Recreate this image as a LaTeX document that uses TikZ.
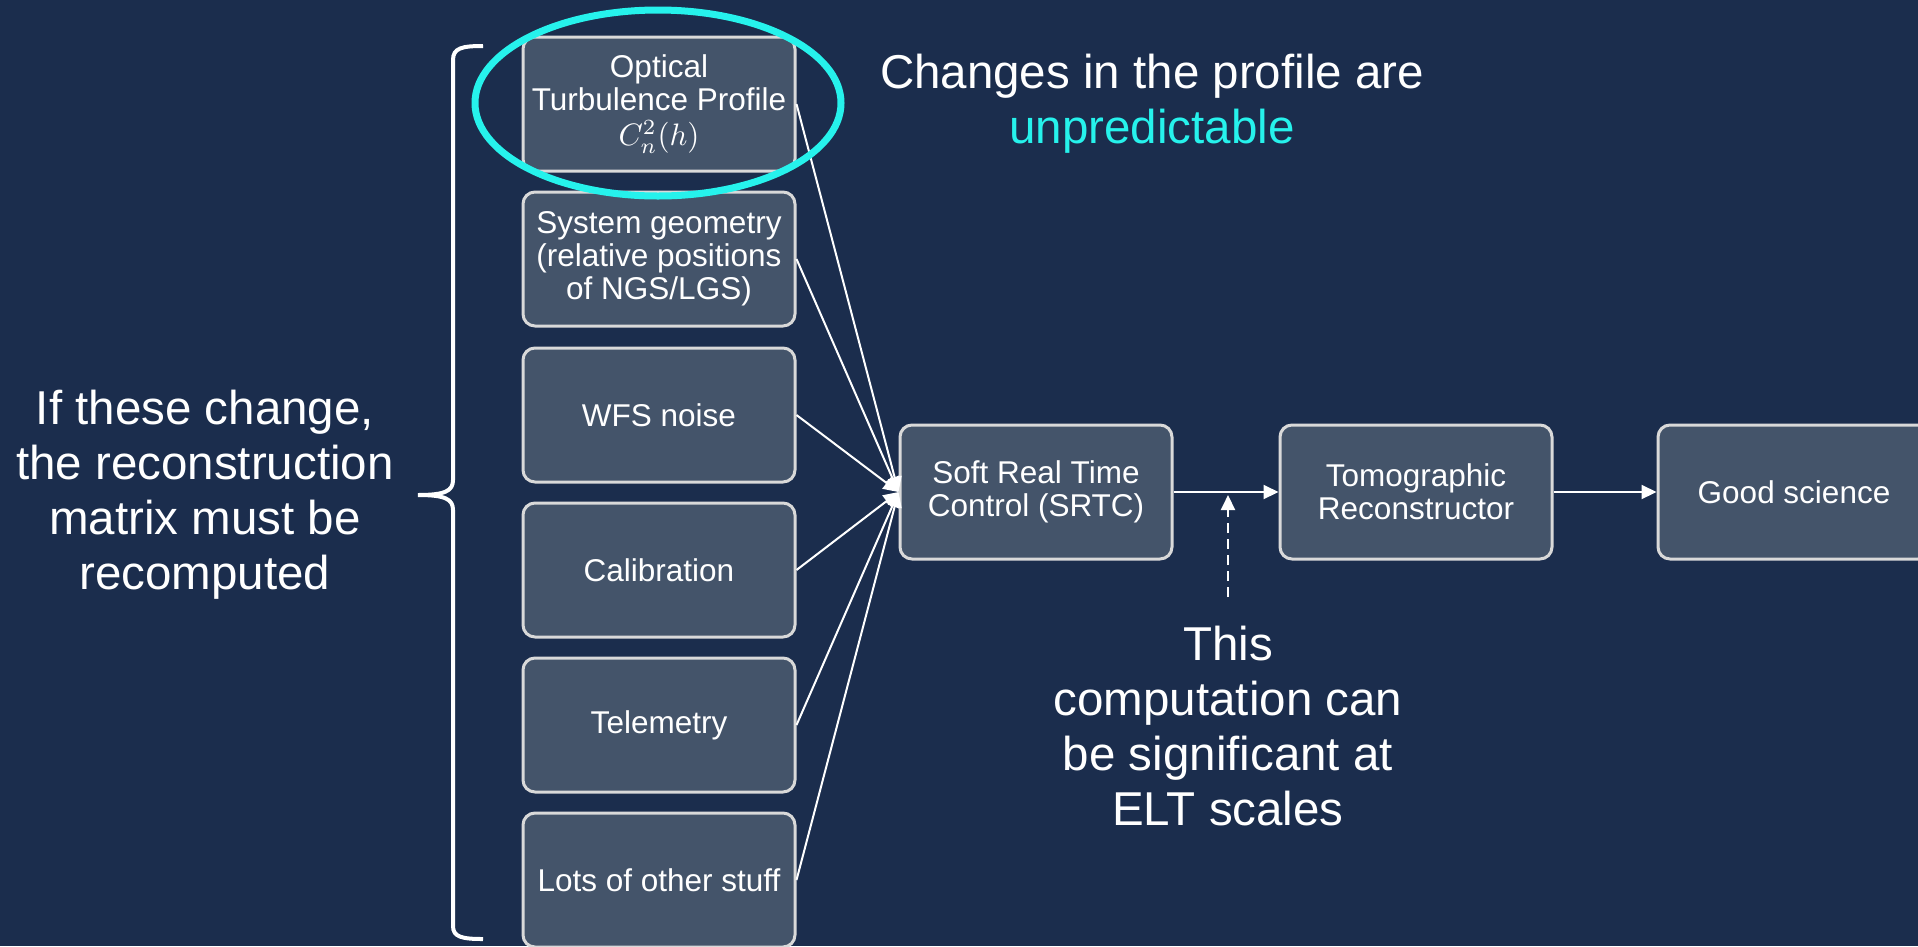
\documentclass[tikz,border=0pt]{standalone}
\usepackage{fontspec}
\setmainfont{Liberation Sans}
\usepackage{amsmath}
\usepackage{graphicx}
\usepackage{tikz}
\usetikzlibrary{calc}
\usetikzlibrary{arrows.meta}
\usetikzlibrary{positioning}
\definecolor{bgnavy}{HTML}{1B2D4D}
\definecolor{boxfill}{HTML}{44546A}
\definecolor{boxline}{HTML}{D9D9D9}
\definecolor{hilite}{HTML}{26F2EC}
\tikzset{>={Triangle[length=15pt,width=14pt]}}
\tikzstyle{blk} = [draw=boxline, fill=boxfill, line width=3pt, rounded corners=12pt, minimum width=272pt, minimum height=134pt, align=center, text=white, inner sep=2pt, font=\fontsize{31.5}{33}\selectfont]
\tikzstyle{conn} = [->, draw=white, line width=2pt]
\tikzstyle{big} = [align=center, text=white, font=\fontsize{47.5}{55}\selectfont]
\newcommand{\cnsq}{{\fontsize{10}{12}\selectfont\scalebox{3.1}{$C_n^2(h)$}}}

\begin{document}
\begin{tikzpicture}[x=1pt, y=-1pt]
\fill [bgnavy] (0, 0) rectangle (1918, 946);
\useasboundingbox (0, 0) rectangle (1918, 946);
\node [blk] (I1) at (659, 104) {Optical\\Turbulence Profile\\[2pt]\cnsq};
\node [blk] (I2) at (659, 259) {System geometry\\(relative positions\\of NGS/LGS)};
\node [blk] (I3) at (659, 415) {WFS noise};
\node [blk] (I4) at (659, 570) {Calibration};
\node [blk] (I5) at (659, 725) {Telemetry};
\node [blk] (I6) at (659, 880) {Lots of other stuff};
\node [blk] (SRTC) at (1036, 492) {Soft Real Time\\Control (SRTC)};
\node [blk] (TR) at (1416, 492) {Tomographic\\Reconstructor};
\node [blk] (GS) at (1794, 492) {Good science};
\foreach \i in {1,...,6}
  \draw [conn] (I\i.east) to (SRTC.west);
\draw [conn] (SRTC) to (TR);
\draw [conn] (TR) to (GS);
\coordinate (D0) at (1228, 597);
\coordinate (D1) at (1228, 495);
\draw [conn, dash pattern=on 10pt off 6pt] (D0) to (D1);
\node [big] (why) at (205, 495) {If these change,\\the reconstruction\\matrix must be\\recomputed};
\node [big] (note) at (1152, 104) {Changes in the profile are\\{\color{hilite}unpredictable}};
\node [big] (cost) at (1228, 726) {This\\computation can\\be significant at\\ELT scales};
% brace round the inputs
\draw [white, line width=4pt] (483, 46) .. controls (462, 46) and (453, 48) .. (453, 60) -- (453, 480) .. controls (453, 491) and (445, 495) .. (418, 495) .. controls (445, 495) and (453, 499) .. (453, 510) -- (453, 926) .. controls (453, 937) and (462, 939) .. (483, 939);
\draw [hilite, line width=7pt] (658, 103) ellipse [x radius=183, y radius=93];
\end{tikzpicture}
\end{document}
